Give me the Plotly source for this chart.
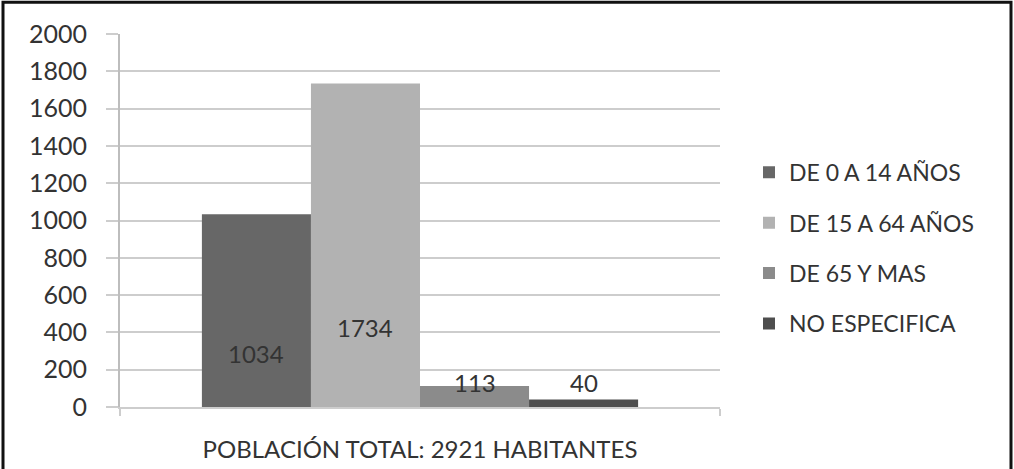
import plotly.graph_objects as go

# Población por grupos de edad
category = ["POBLACIÓN TOTAL: 2921 HABITANTES"]
groups = ["DE 0 A 14 AÑOS", "DE 15 A 64 AÑOS", "DE 65 Y MAS", "NO ESPECIFICA"]
values = [1034, 1734, 113, 40]
y_ticks = [0, 200, 400, 600, 800, 1000, 1200, 1400, 1600, 1800, 2000]

# presentation
colors = ["#676767", "#b2b2b2", "#8b8b8b", "#4e4e4e"]
label_heights = [288, 427, 132, 132]
text_color = "#333333"
font_family = "Lato, 'Open Sans', sans-serif"
grid_color = "#cdcdcd"

BARGAP = 0.273
n = len(groups)
bar_w = (1 - BARGAP) / n

fig = go.Figure()
for i, (name, val) in enumerate(zip(groups, values)):
    fig.add_trace(go.Bar(
        x=category, y=[val], name=name,
        marker=dict(color=colors[i], line=dict(width=0)),
        legendgroup=name,
    ))
    center = -0.5 + BARGAP / 2 + bar_w * (i + 0.5)
    fig.add_annotation(
        x=center, y=label_heights[i], xref="x", yref="y",
        text=str(val), showarrow=False,
        font=dict(family=font_family, size=24, color=text_color),
    )

# frame around the chart (left, top, right)
L, R, T, B = 120, 720, 33.7, 406.7
def px(xp):
    return (xp - L) / (R - L)
def py(yp):
    return (B - yp) / (B - T)

frame = dict(type="path", xref="paper", yref="paper",
             path=f"M {px(3)},{py(480)} L {px(3)},{py(2)} L {px(1011)},{py(2)} L {px(1011)},{py(480)}",
             line=dict(color="#111111", width=3))
fig.add_shape(**frame)

fig.update_layout(
    width=1014, height=469,
    margin=dict(l=L, r=1014 - R, t=T, b=469 - B, autoexpand=False),
    paper_bgcolor="white", plot_bgcolor="white",
    barmode="group", bargap=BARGAP, bargroupgap=0,
    font=dict(family=font_family, size=24, color=text_color),
    showlegend=True,
    legend=dict(
        x=px(749), xanchor="left", y=py(248), yanchor="middle",
        font=dict(family=font_family, size=23, color=text_color),
        traceorder="grouped", tracegroupgap=17.5,
        itemsizing="constant", bgcolor="rgba(0,0,0,0)",
    ),
    xaxis=dict(
        type="category", range=[-0.5, 0.5], automargin=False,
        showgrid=False, showline=True, linecolor=grid_color, linewidth=2,
        ticks="outside", tickson="boundaries", ticklen=7, tickcolor=grid_color,
        tickwidth=2, ticklabelstandoff=20,
        tickfont=dict(family=font_family, size=24, color=text_color),
        fixedrange=True,
    ),
    yaxis=dict(
        range=[0, 2000], tickvals=y_ticks, automargin=False,
        showgrid=True, gridcolor=grid_color, gridwidth=2,
        showline=True, linecolor="#bdbdbd", linewidth=2,
        ticks="outside", ticklen=12, tickcolor=grid_color, tickwidth=2,
        ticklabelstandoff=14, zeroline=False,
        tickfont=dict(family=font_family, size=25, color=text_color),
        fixedrange=True,
    ),
)

fig.write_html("out.html")
